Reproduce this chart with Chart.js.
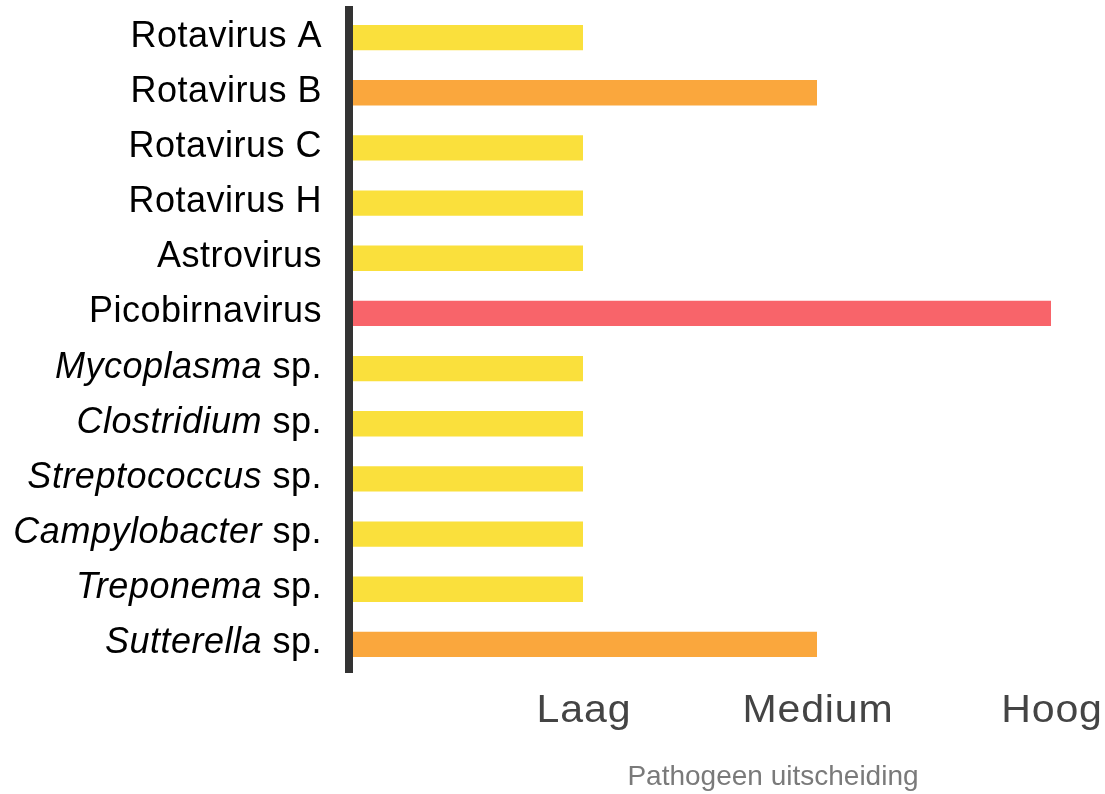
<!DOCTYPE html>
<html>
<head>
<meta charset="utf-8">
<script src="https://cdn.jsdelivr.net/npm/chart.js@4.4.0/dist/chart.umd.min.js"></script>
<style>
  body { margin: 0; background: #fff; }
  #wrap { width: 1105px; height: 794px; position: relative; }
</style>
</head>
<body>
<div id="wrap"><canvas id="chart"></canvas></div>
<script>
// --- DATA ---
const names = ['Rotavirus A', 'Rotavirus B', 'Rotavirus C', 'Rotavirus H', 'Astrovirus', 'Picobirnavirus',
  'Mycoplasma', 'Clostridium', 'Streptococcus', 'Campylobacter', 'Treponema', 'Sutterella'];
const italicName = [false, false, false, false, false, false, true, true, true, true, true, true];
const suffixes = ['', '', '', '', '', '', ' sp.', ' sp.', ' sp.', ' sp.', ' sp.', ' sp.'];
const levels = [1, 2, 1, 1, 1, 3, 1, 1, 1, 1, 1, 2];
const levelLabels = ['', 'Laag', 'Medium', 'Hoog'];
const levelColors = ['#ffffff', '#FAE03C', '#FAA73D', '#F8646A'];
const xTitle = 'Pathogeen uitscheiding';

const FONT = '"Liberation Sans", Arial, Helvetica, sans-serif';

// labels zelf tekenen: gemengd cursief (kan niet met gewone ticks)
const labelPlugin = {
  id: 'mixedLabels',
  afterDraw(chart) {
    const ctx = chart.ctx;
    const y = chart.scales.y;
    const x = chart.scales.x;
    const right = chart.chartArea.left - 27;
    ctx.save();
    ctx.textBaseline = 'alphabetic';
    ctx.fillStyle = '#000';
    ctx.letterSpacing = '0.5px';
    ctx.textAlign = 'right';
    names.forEach((n, i) => {
      const py = y.getPixelForValue(i) + 9;
      const regular = '36px ' + FONT;
      const italic = 'italic 36px ' + FONT;
      ctx.font = regular;
      const wSuf = ctx.measureText(suffixes[i]).width;
      if (suffixes[i]) ctx.fillText(suffixes[i], right, py);
      ctx.font = italicName[i] ? italic : regular;
      ctx.fillText(n, right - wSuf, py);
    });

    // x-as labels (iets breder getrokken, zoals in het origineel)
    ctx.fillStyle = '#444';
    ctx.font = '38px ' + FONT;
    ctx.letterSpacing = '0.8px';
    ctx.textAlign = 'center';
    for (let v = 1; v < levelLabels.length; v++) {
      ctx.save();
      ctx.translate(x.getPixelForValue(v) + 1, 722);
      ctx.scale(1.08, 1);
      ctx.fillText(levelLabels[v], 0, 0);
      ctx.restore();
    }

    // as-titel
    ctx.font = '28px ' + FONT;
    ctx.letterSpacing = '0px';
    ctx.fillStyle = '#7a7a7a';
    ctx.fillText(xTitle, 773, 785);
    ctx.restore();
  }
};

new Chart(document.getElementById('chart'), {
  type: 'bar',
  data: {
    labels: names,
    datasets: [{
      data: levels,
      backgroundColor: levels.map(v => levelColors[v]),
      borderWidth: 0,
      categoryPercentage: 1,
      barPercentage: 0.46
    }]
  },
  options: {
    indexAxis: 'y',
    responsive: true,
    maintainAspectRatio: false,
    animation: false,
    layout: { padding: { top: 10, right: 54, bottom: 0, left: 0 } },
    plugins: { legend: { display: false }, tooltip: { enabled: false } },
    scales: {
      x: {
        min: 0, max: 3,
        grid: { display: false, drawTicks: false },
        border: { display: false },
        ticks: { display: false, stepSize: 1 },
        afterFit: s => { s.height = 122; }
      },
      y: {
        grid: { display: false, drawTicks: false },
        border: { display: true, color: '#333', width: 8, z: 1 },
        ticks: { display: false },
        afterFit: s => { s.width = 349; }
      }
    }
  },
  plugins: [labelPlugin]
});
</script>
</body>
</html>
